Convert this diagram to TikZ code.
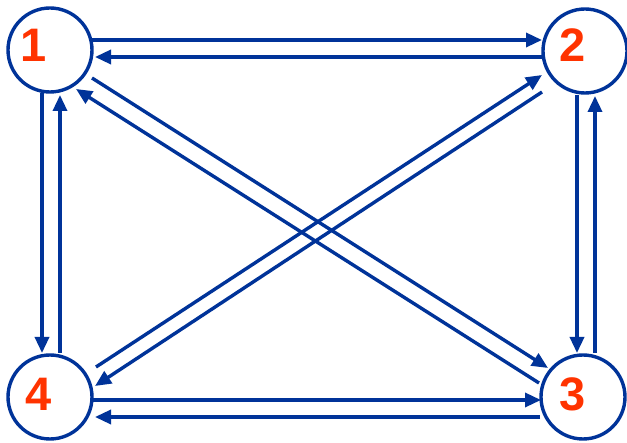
\documentclass[tikz,border=0pt]{standalone}
\usepackage{fontspec}
\setmainfont{Liberation Sans}
\usetikzlibrary{arrows.meta,calc}
\definecolor{lineblue}{RGB}{0,51,153}
\definecolor{numred}{RGB}{255,51,0}
\tikzset{
  statecircle/.style={circle,draw=lineblue,line width=3.4pt,minimum size=84pt,inner sep=0pt,fill=white},
  numlabel/.style={text=numred,font=\fontsize{47}{47}\selectfont\bfseries,inner sep=0pt},
  link/.style={draw=lineblue,line width=3.4pt,-{Triangle[length=16pt,width=14pt]}},
  plain/.style={draw=lineblue,line width=3.4pt}
}
\begin{document}
\begin{tikzpicture}[x=1pt,y=-1pt]
\useasboundingbox (0,0) rectangle (627,443);
\fill[white] (0,0) rectangle (627,443);
% circles
\node[statecircle] (n1) at (50,50) {};
\node[statecircle] (n2) at (585,51) {};
\node[statecircle] (n3) at (583,397) {};
\node[statecircle] (n4) at (50,397) {};
% labels
\node[numlabel] (l1) at (34,45) {1};
\node[numlabel] (l2) at (573,45) {2};
\node[numlabel] (l3) at (573,394) {3};
\node[numlabel] (l4) at (39,394) {4};
% top pair
\draw[link] ($(n1)+(42,-10)$) -- ($(n2)+(-43,-11)$);
\draw[link] ($(n2)+(-43,6)$) -- ($(n1)+(45,7)$);
% left pair
\draw[link] ($(n1)+(-8,43)$) -- ($(n4)+(-8,-44)$);
\draw[link] ($(n4)+(10,-44)$) -- ($(n1)+(10,45)$);
% right pair
\draw[link] ($(n2)+(-8,44)$) -- ($(n3)+(-6,-44)$);
\draw[link] ($(n3)+(12,-44)$) -- ($(n2)+(10,45)$);
% bottom pair
\draw[link] ($(n4)+(43,3)$) -- ($(n3)+(-42,3)$);
\draw[link] ($(n3)+(-43,20)$) -- ($(n4)+(45,20)$);
% diagonal 1-3
\draw[link] ($(n1)+(42,28)$) -- ($(n3)+(-35,-29)$);
\draw[link] ($(n3)+(-44,-14)$) -- ($(n1)+(26,39)$);
% diagonal 2-4
\draw[link] ($(n4)+(46,-30)$) -- ($(n2)+(-43,24)$);
\draw[link] ($(n2)+(-43,41)$) -- ($(n4)+(45,-11)$);
\end{tikzpicture}
\end{document}
